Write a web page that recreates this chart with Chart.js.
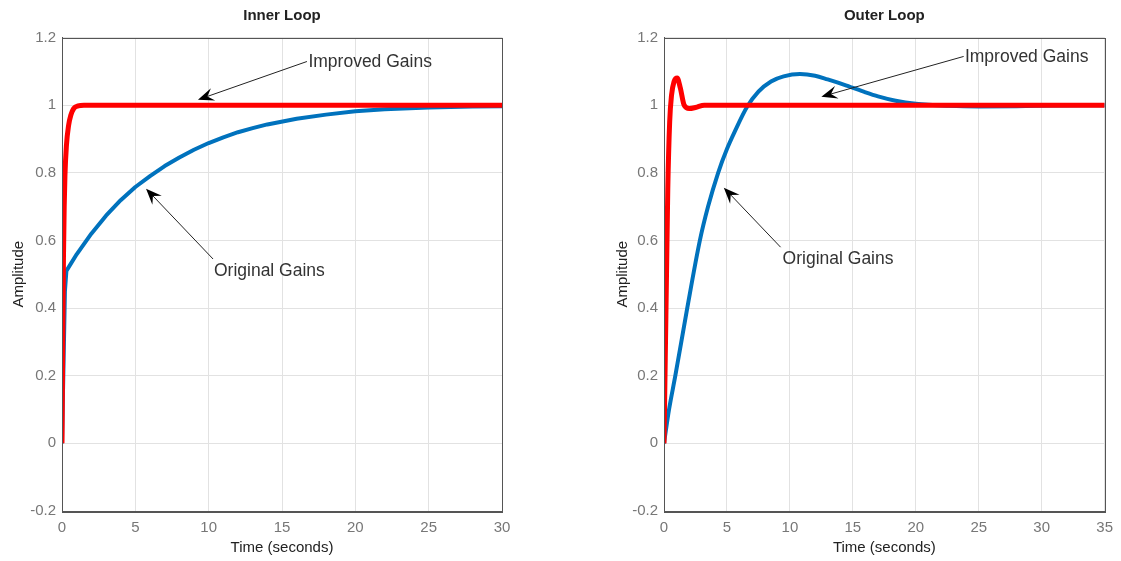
<!DOCTYPE html>
<html>
<head>
<meta charset="utf-8">
<script src="https://cdn.jsdelivr.net/npm/chart.js@4.4.1/dist/chart.umd.min.js"></script>
<style>
body{margin:0;background:#fff;width:1121px;height:561px;overflow:hidden;position:relative}
canvas{position:absolute;top:0}
</style>
</head>
<body>
<canvas id="inner" width="560" height="561" style="left:0"></canvas>
<canvas id="outer" width="561" height="561" style="left:560px"></canvas>
<script>
/* ======================
====================== */
const yTicks = [-0.2, 0, 0.2, 0.4, 0.6, 0.8, 1, 1.2];
const innerXTicks = [0, 5, 10, 15, 20, 25, 30];
const outerXTicks = [0, 5, 10, 15, 20, 25, 30, 35];

// inner loop
const innerOrigT = [0, 0.2, 0.3, 1, 2, 3, 4, 5, 6, 7, 8, 9, 10, 11, 12, 13, 14, 16, 18, 20, 22, 25, 28, 30];
const innerOrigY = [0, 0.45, 0.51, 0.559, 0.62, 0.673, 0.719, 0.758, 0.79, 0.82, 0.845, 0.868, 0.888, 0.905, 0.92, 0.932, 0.943, 0.96, 0.972, 0.982, 0.988, 0.993, 0.996, 0.997];
const innerImpT = [0, 0.05, 0.1, 0.15, 0.2, 0.3, 0.45, 0.6, 0.8, 1.1, 1.5, 30];
const innerImpY = [0, 0.3, 0.55, 0.7, 0.79, 0.88, 0.94, 0.97, 0.99, 0.998, 1, 1];

// outer loop
const outerOrigT = [0, 0.4, 0.9, 1.8, 2.85, 3.5, 4.3, 5, 5.6, 6.6, 7.5, 8.5, 9.5, 10.8, 12, 13, 14.5, 16, 17, 18.4, 20, 22.6, 25, 28, 31, 35];
const outerOrigY = [0, 0.1, 0.2, 0.39, 0.6, 0.7, 0.8, 0.87, 0.92, 0.995, 1.04, 1.07, 1.085, 1.092, 1.087, 1.076, 1.058, 1.038, 1.026, 1.013, 1.004, 0.998, 0.996, 0.997, 0.999, 1];
const outerImpT = [0, 0.1, 0.2, 0.3, 0.45, 0.6, 0.8, 1.05, 1.3, 1.6, 2, 2.5, 3.2, 35];
const outerImpY = [0, 0.25, 0.5, 0.75, 0.95, 1.03, 1.07, 1.08, 1.05, 1, 0.99, 0.993, 1, 1];

// arrows + labels, in data units
const innerNotes = [
  {text: "Improved Gains", tip: [9.27, 1.016], tail: [16.7, 1.129], at: [16.8, 1.126]},
  {text: "Original Gains", tip: [5.73, 0.753], tail: [10.3, 0.545], at: [10.36, 0.51]}
];
const outerNotes = [
  {text: "Improved Gains", tip: [12.5, 1.025], tail: [23.8, 1.144], at: [23.9, 1.141]},
  {text: "Original Gains", tip: [4.75, 0.756], tail: [9.26, 0.58], at: [9.42, 0.545]}
];

Chart.defaults.font.family = "'Liberation Sans', Arial, sans-serif";

const toPoints = (t, y) => t.map((v, i) => ({x: v, y: y[i]}));

/* ======================
   PLUGIN: box, title, arrows
====================== */
const matlabBits = {
  id: "matlabBits",
  afterDraw(chart, args, opts) {
    const ctx = chart.ctx;
    const a = chart.chartArea;
    const xs = chart.scales.x, ys = chart.scales.y;
    ctx.save();
    // axes box
    ctx.strokeStyle = "#555";
    ctx.lineWidth = 1;
    ctx.strokeRect(Math.round(a.left) + 0.5, Math.round(a.top) + 0.5, Math.round(a.right - a.left), Math.round(a.bottom - a.top));
    // title
    ctx.fillStyle = "#222";
    ctx.font = "bold 15px 'Liberation Sans', Arial, sans-serif";
    ctx.textAlign = "center";
    ctx.textBaseline = "middle";
    ctx.fillText(opts.title, (a.left + a.right) / 2, 16);
    // annotations
    opts.notes.forEach(n => {
      const tx = xs.getPixelForValue(n.tip[0]), ty = ys.getPixelForValue(n.tip[1]);
      const sx = xs.getPixelForValue(n.tail[0]), sy = ys.getPixelForValue(n.tail[1]);
      const c = Math.cos(Math.atan2(ty - sy, tx - sx)), s = Math.sin(Math.atan2(ty - sy, tx - sx));
      const L = 14, W = 6.5;
      const bx = tx - L * c, by = ty - L * s;
      ctx.strokeStyle = "#222";
      ctx.lineWidth = 1;
      ctx.beginPath();
      ctx.moveTo(sx, sy);
      ctx.lineTo(bx + 4 * c, by + 4 * s);
      ctx.stroke();
      ctx.fillStyle = "#000";
      ctx.beginPath();
      ctx.moveTo(tx, ty);
      ctx.lineTo(bx - W * s - 2 * c, by + W * c - 2 * s);
      ctx.lineTo(bx + 4 * c, by + 4 * s);
      ctx.lineTo(bx + W * s - 2 * c, by - W * c - 2 * s);
      ctx.closePath();
      ctx.fill();
      ctx.fillStyle = "#333";
      ctx.font = "17.5px 'Liberation Sans', Arial, sans-serif";
      ctx.textAlign = "left";
      ctx.textBaseline = "middle";
      ctx.fillText(n.text, xs.getPixelForValue(n.at[0]), ys.getPixelForValue(n.at[1]));
    });
    ctx.restore();
  }
};

/* ======================
   BUILD ONE PANEL
====================== */
function makePanel(id, title, xMax, xTicks, yWidth, pad, orig, imp, notes, origSmooth) {
  return new Chart(document.getElementById(id), {
    type: "line",
    data: {
      datasets: [
        {label: "Improved Gains", data: imp, borderColor: "#ff0000", borderWidth: 5, order: 0},
        {label: "Original Gains", data: orig, borderColor: "#0072bd", borderWidth: 4, order: 1,
         cubicInterpolationMode: origSmooth ? "monotone" : "default", tension: 0}
      ]
    },
    options: {
      responsive: false,
      animation: false,
      elements: {point: {radius: 0}, line: {cubicInterpolationMode: "monotone", borderCapStyle: "butt", borderJoinStyle: "round"}},
      layout: {padding: pad},
      plugins: {
        legend: {display: false},
        tooltip: {enabled: false},
        matlabBits: {title: title, notes: notes}
      },
      scales: {
        x: {
          type: "linear", min: 0, max: xMax,
          afterBuildTicks: s => { s.ticks = xTicks.map(v => ({value: v})); },
          afterFit: s => { s.height = 50; },
          grid: {color: "#e2e2e2", drawTicks: false},
          border: {color: "#555"},
          ticks: {color: "#777", font: {size: 15}, padding: 8, maxRotation: 0, autoSkip: false, callback: v => String(v)},
          title: {display: true, text: "Time (seconds)", color: "#222", font: {size: 15}, padding: {top: 0, bottom: 4}}
        },
        y: {
          min: -0.2, max: 1.2,
          afterBuildTicks: s => { s.ticks = yTicks.map(v => ({value: v})); },
          afterFit: s => { s.width = yWidth; },
          grid: {color: "#e2e2e2", drawTicks: false},
          border: {color: "#555"},
          ticks: {color: "#777", font: {size: 15}, padding: 6, autoSkip: false, callback: v => String(Math.round(v * 10) / 10)},
          title: {display: true, text: "Amplitude", color: "#222", font: {size: 15}, padding: {top: 4, bottom: 0}}
        }
      }
    },
    plugins: [matlabBits]
  });
}

makePanel("inner", "Inner Loop", 30, innerXTicks, 56,
  {left: 6, right: 58, top: 37.5, bottom: 0},
  toPoints(innerOrigT, innerOrigY), toPoints(innerImpT, innerImpY), innerNotes, false);

makePanel("outer", "Outer Loop", 35, outerXTicks, 54,
  {left: 50, right: 15, top: 37.5, bottom: 0},
  toPoints(outerOrigT, outerOrigY), toPoints(outerImpT, outerImpY), outerNotes, true);
</script>
</body>
</html>
